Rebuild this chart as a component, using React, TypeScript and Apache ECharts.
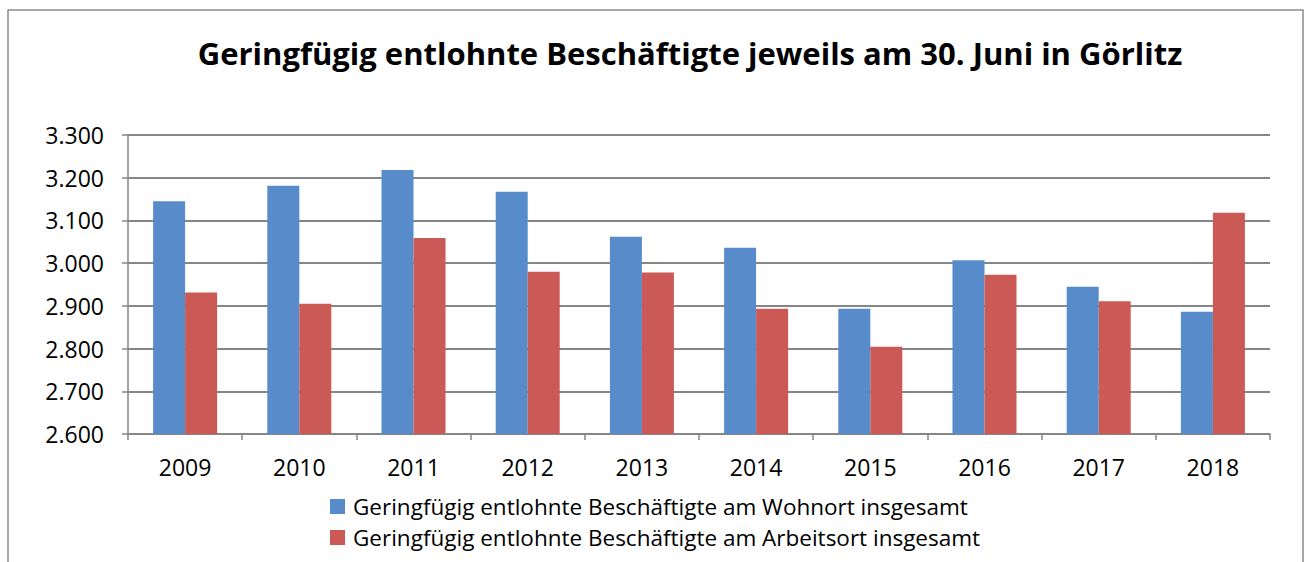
import React, { useEffect, useRef } from "react";
import * as echarts from "echarts";

const categories = ["2009", "2010", "2011", "2012", "2013", "2014", "2015", "2016", "2017", "2018"];
const wohnort = [3145, 3181, 3218, 3167, 3062, 3036, 2893, 3007, 2945, 2886];
const arbeitsort = [2931, 2905, 3059, 2980, 2978, 2893, 2804, 2973, 2911, 3118];
const seriesNames = [
  "Geringfügig entlohnte Beschäftigte am Wohnort insgesamt",
  "Geringfügig entlohnte Beschäftigte am Arbeitsort insgesamt",
];
const title = "Geringfügig entlohnte Beschäftigte jeweils am 30. Juni in Görlitz";

const fmt = (v: number) => {
  const s = String(Math.round(v));
  return s.replace(/\B(?=(\d{3})+(?!\d))/g, ".");
};

export default function App() {
  const ref = useRef<HTMLDivElement>(null);
  useEffect(() => {
    if (!ref.current) return;
    const chart = echarts.init(ref.current, undefined, { renderer: "svg" });
    const font = "'Open Sans', 'Noto Sans', sans-serif";
    chart.setOption({
      animation: false,
      backgroundColor: "#ffffff",
      textStyle: { fontFamily: font },
      title: {
        text: title,
        left: 685,
        textAlign: "center",
        top: 32,
        textStyle: { fontSize: 31, fontWeight: "bold", color: "#000", fontFamily: font },
      },
      graphic: [
        {
          type: "rect",
          shape: { x: 8, y: 10, width: 1295, height: 570 },
          style: { fill: "none", stroke: "#8c8c8c", lineWidth: 1.5 },
          silent: true,
        },
      ],
      grid: { left: 128, right: 41, top: 135, bottom: 128, containLabel: false },
      legend: {
        orient: "vertical",
        left: 325,
        top: 490,
        itemWidth: 15,
        itemHeight: 15,
        itemGap: 8,
        icon: "rect",
        textStyle: { fontSize: 22.5, color: "#000", fontFamily: font, padding: [0, 0, 0, 3] },
        data: seriesNames,
      },
      xAxis: {
        type: "category",
        data: categories,
        axisLine: { lineStyle: { color: "#868686", width: 1.5 } },
        axisTick: { show: true, alignWithLabel: false, length: 6, lineStyle: { color: "#868686", width: 1.5 } },
        axisLabel: { fontSize: 23, color: "#000", margin: 21, fontFamily: font },
      },
      yAxis: {
        type: "value",
        min: 2600,
        max: 3300,
        interval: 100,
        axisLine: { show: true, lineStyle: { color: "#868686", width: 1.5 } },
        axisTick: { show: true, length: 6, lineStyle: { color: "#868686", width: 1.5 } },
        axisLabel: { fontSize: 23, color: "#000", margin: 24, formatter: fmt, fontFamily: font },
        splitLine: { show: true, lineStyle: { color: "#868686", width: 1.8 } },
      },
      series: [
        {
          name: seriesNames[0],
          type: "bar",
          data: wohnort,
          barWidth: 32,
          barGap: "0%",
          itemStyle: { color: "#588BCA" },
        },
        {
          name: seriesNames[1],
          type: "bar",
          data: arbeitsort,
          barWidth: 32,
          barGap: "0%",
          itemStyle: { color: "#CB5A56" },
        },
      ],
    });
    return () => chart.dispose();
  }, []);
  return <div ref={ref} style={{ width: 1311, height: 562, position: "absolute", left: 0, top: 0 }} />;
}
